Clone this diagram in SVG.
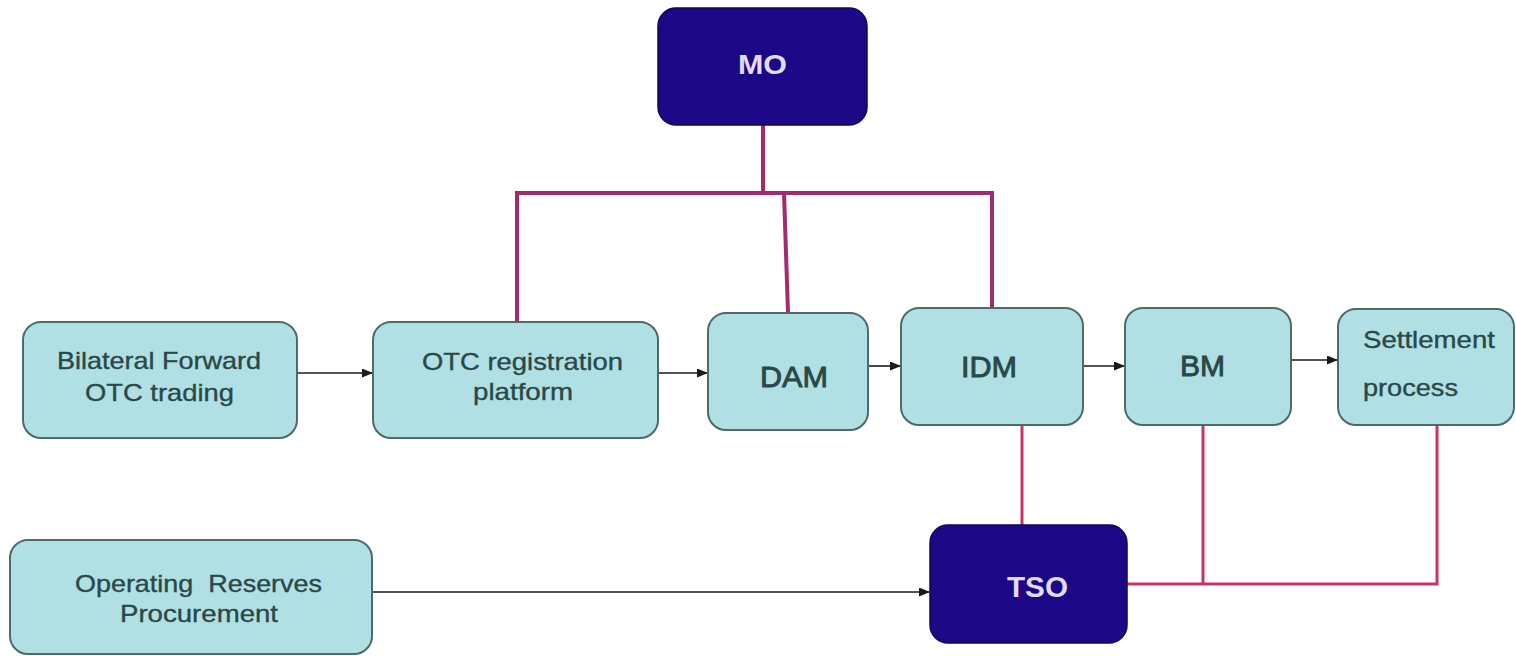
<svg xmlns="http://www.w3.org/2000/svg" width="1516" height="656" viewBox="0 0 1516 656">
<defs>
<marker id="ah" markerWidth="11" markerHeight="9" refX="10" refY="4.5" orient="auto" markerUnits="userSpaceOnUse">
<path d="M0,0 L11,4.5 L0,9 z" fill="#1a1a1a"/>
</marker>
<style>
.lb{fill:#b0e0e4;stroke:#4e6b6b;stroke-width:2}
.db{fill:#1c0787;stroke:#14055e;stroke-width:1.5}
.t{font-family:"Liberation Sans",Arial,sans-serif;fill:#2b4747;stroke:#2b4747;stroke-width:0.35}
.s{font-size:24px}
.m{font-size:30px;stroke-width:0.9}
.w{font-family:"Liberation Sans",Arial,sans-serif;fill:#e2dbf6;font-weight:bold}
.pk{fill:none;stroke:#a32a6b;stroke-width:4;stroke-linejoin:miter}
.pk2{fill:none;stroke:#c7336c;stroke-width:3}
.ar{fill:none;stroke:#1a1a1a;stroke-width:1.6;marker-end:url(#ah)}
</style>
</defs>
<rect width="1516" height="656" fill="#ffffff"/>
<g id="connectors">
<path class="pk" d="M763,125 V193"/>
<path class="pk" d="M517,322 V193 H992 V308"/>
<path class="pk" d="M784,193 L788,313"/>
<path class="pk2" d="M1022,425 V525"/>
<path class="pk2" d="M1127,584 H1437 V425"/>
<path class="pk2" d="M1203,425 V584"/>
<path class="ar" d="M297,373 H372"/>
<path class="ar" d="M658,373 H707"/>
<path class="ar" d="M868,366 H900"/>
<path class="ar" d="M1083,366 H1124"/>
<path class="ar" d="M1291,360 H1337"/>
<path class="ar" d="M372,592 H929"/>
</g>
<g id="mo">
<rect class="db" x="658" y="8" width="209" height="117" rx="18"/>
<text class="w" x="738" y="74" font-size="28" textLength="49" lengthAdjust="spacingAndGlyphs">MO</text>
</g>
<g id="bilateral">
<rect class="lb" x="23" y="322" width="274" height="116" rx="18"/>
<text class="t s" x="57" y="369" textLength="204" lengthAdjust="spacingAndGlyphs">Bilateral Forward</text>
<text class="t s" x="85" y="401" textLength="149" lengthAdjust="spacingAndGlyphs">OTC trading</text>
</g>
<g id="otc">
<rect class="lb" x="373" y="322" width="285" height="116" rx="18"/>
<text class="t s" x="422" y="370" textLength="201" lengthAdjust="spacingAndGlyphs">OTC registration</text>
<text class="t s" x="473" y="400" textLength="100" lengthAdjust="spacingAndGlyphs">platform</text>
</g>
<g id="dam">
<rect class="lb" x="708" y="313" width="160" height="117" rx="18"/>
<text class="t m" x="760" y="387" textLength="68" lengthAdjust="spacingAndGlyphs">DAM</text>
</g>
<g id="idm">
<rect class="lb" x="901" y="308" width="182" height="117" rx="18"/>
<text class="t m" x="961" y="377" textLength="56" lengthAdjust="spacingAndGlyphs">IDM</text>
</g>
<g id="bm">
<rect class="lb" x="1125" y="308" width="166" height="117" rx="18"/>
<text class="t m" x="1180" y="376" textLength="45" lengthAdjust="spacingAndGlyphs">BM</text>
</g>
<g id="settlement">
<rect class="lb" x="1338" y="309" width="176" height="116" rx="18"/>
<text class="t s" x="1363" y="348" textLength="132" lengthAdjust="spacingAndGlyphs">Settlement</text>
<text class="t s" x="1363" y="396" textLength="95" lengthAdjust="spacingAndGlyphs">process</text>
</g>
<g id="reserves">
<rect class="lb" x="10" y="540" width="362" height="114" rx="18"/>
<text class="t s" x="75" y="592" textLength="247" lengthAdjust="spacingAndGlyphs" xml:space="preserve">Operating  Reserves</text>
<text class="t s" x="120" y="622" textLength="158" lengthAdjust="spacingAndGlyphs">Procurement</text>
</g>
<g id="tso">
<rect class="db" x="930" y="525" width="197" height="118" rx="18"/>
<text class="w" x="1007" y="597" font-size="29" textLength="61" lengthAdjust="spacingAndGlyphs">TSO</text>
</g>
</svg>
